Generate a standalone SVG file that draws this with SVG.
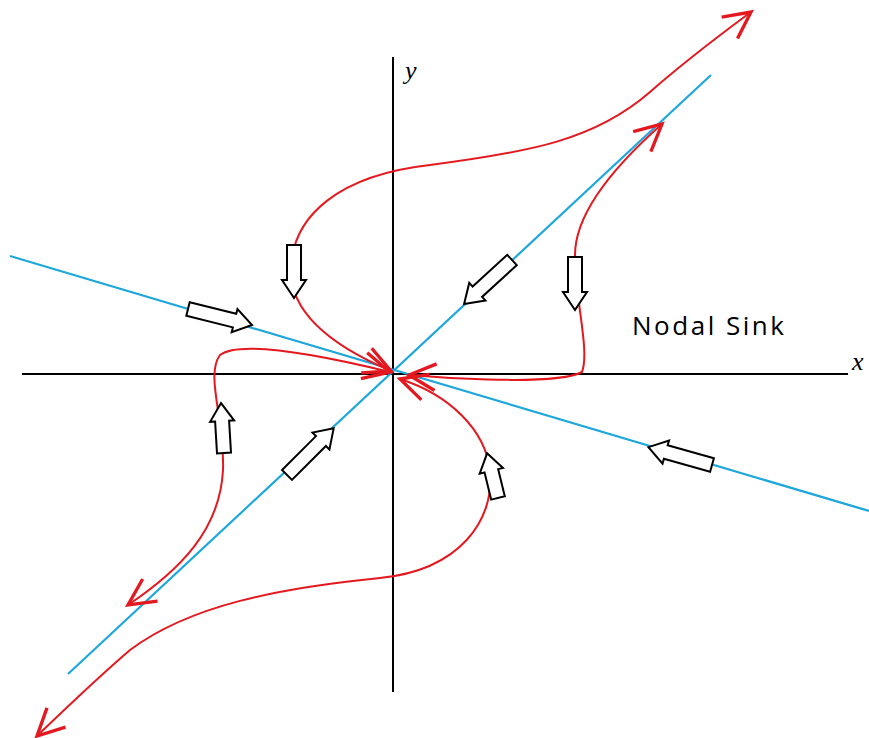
<svg xmlns="http://www.w3.org/2000/svg" width="869" height="738" viewBox="0 0 869 738">
<style>
.axis{stroke:#000;stroke-width:2;fill:none}
.eig{stroke:#1ea7dc;stroke-width:2.2;fill:none}
.traj{stroke:#e3191f;stroke-width:2;fill:none}
.block{fill:#fff;stroke:#000;stroke-width:2;stroke-linejoin:miter}
.lbl{font-family:"Liberation Serif",serif;font-style:italic;font-size:26px;fill:#000}
.title{font-family:"Open Sans","Liberation Sans",sans-serif;font-size:26px;fill:#000}
</style>
<defs>
<marker id="ah" markerUnits="userSpaceOnUse" markerWidth="40" markerHeight="40" refX="0" refY="0" viewBox="-25 -15 30 30" orient="auto-start-reverse" overflow="visible">
<path d="M-20,-10 L0,0 L-20,10" fill="none" stroke="#e3191f" stroke-width="2.5"/>
</marker>
</defs>
<rect width="869" height="738" fill="#fff"/>
<g id="axes">
<line class="axis" x1="393" y1="57" x2="393" y2="692"/>
<line class="axis" x1="22" y1="374" x2="848" y2="374"/>
<text class="lbl" x="405" y="79">y</text>
<text class="lbl" x="852" y="370">x</text>
</g>
<g id="eigenlines">
<line class="eig" x1="68" y1="674" x2="711" y2="75"/>
<line class="eig" x1="10" y1="256" x2="869" y2="511"/>
</g>
<g id="trajectories">
<path class="traj" marker-start="url(#ah)" marker-end="url(#ah)" d="M391,371 C330,345 289,312 291,268 C293,215 340,175 430,165 C530,152 595,140 650,92 C690,57 720,35 751,12"/>
<path class="traj" marker-start="url(#ah)" marker-end="url(#ah)" d="M409,375 C470,380 560,384 582,372 C590,350 575,300 575,255 C575,215 610,170 662,124"/>
<path class="traj" marker-start="url(#ah)" marker-end="url(#ah)" d="M390,372 C320,355 240,340 220,355 C205,375 225,420 223,470 C220,530 180,570 128,605"/>
<path class="traj" marker-start="url(#ah)" marker-end="url(#ah)" d="M400,379 C450,395 485,430 490,470 C495,520 460,570 380,578 C280,588 190,605 130,650 C95,680 62,712 37,736"/>
</g>
<g id="flow-arrows">
<polygon class="block" transform="translate(188,309) rotate(14)" points="0,-7 48,-7 48,-12 66,0 48,12 48,7 0,7"/>
<polygon class="block" transform="translate(294,245) rotate(90)" points="0,-7 35,-7 35,-12 53,0 35,12 35,7 0,7"/>
<polygon class="block" transform="translate(512,260) rotate(137.5)" points="0,-7 47,-7 47,-12 65,0 47,12 47,7 0,7"/>
<polygon class="block" transform="translate(575,257) rotate(90)" points="0,-7 35,-7 35,-12 53,0 35,12 35,7 0,7"/>
<polygon class="block" transform="translate(712,465) rotate(195.7)" points="0,-7 48,-7 48,-12 66,0 48,12 48,7 0,7"/>
<polygon class="block" transform="translate(224,453) rotate(266.6)" points="0,-7 32,-7 32,-12 50,0 32,12 32,7 0,7"/>
<polygon class="block" transform="translate(287,475) rotate(-45)" points="0,-7 48,-7 48,-12 66,0 48,12 48,7 0,7"/>
<polygon class="block" transform="translate(498,498) rotate(256.3)" points="0,-7 28,-7 28,-12 46,0 28,12 28,7 0,7"/>
</g>
<g id="label">
<text class="title" x="632" y="335" textLength="152" lengthAdjust="spacing">Nodal Sink</text>
</g>
</svg>
